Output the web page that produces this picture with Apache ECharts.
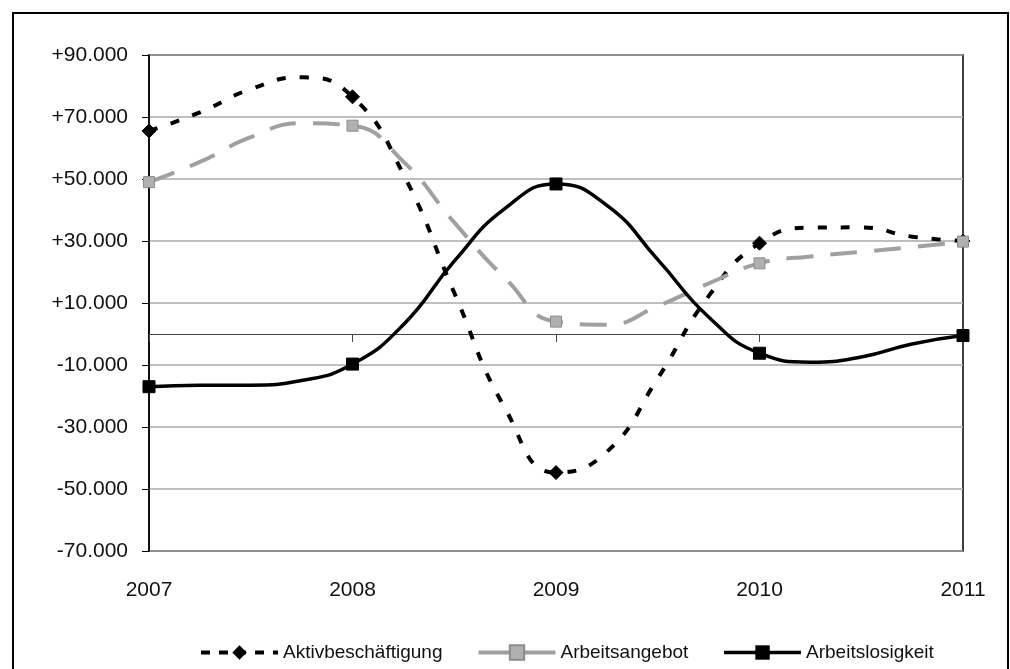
<!DOCTYPE html>
<html>
<head>
<meta charset="utf-8">
<script src="https://cdn.jsdelivr.net/npm/echarts@6/dist/echarts.min.js"></script>
<style>
  html, body { margin: 0; padding: 0; background: #fff; }
  #chart { width: 1010px; height: 669px; }
</style>
</head>
<body>
<div id="chart"></div>
<script>
// Quarterly time points (fractional years); markers are drawn on full years only
const periods = [2007, 2007.25, 2007.5, 2007.75,
                 2008, 2008.25, 2008.5, 2008.75,
                 2009, 2009.25, 2009.5, 2009.75,
                 2010, 2010.25, 2010.5, 2010.75,
                 2011];
const yearTicks = [2007, 2008, 2009, 2010, 2011];

// Change against previous year (persons)
const aktivbeschaeftigung = [65500, 71500, 79000, 82800,
                             76500, 51500, 13300, -24000,
                             -44700, -38000, -14300, 12200,
                             29300, 34300, 34400, 31400,
                             30000];
const arbeitsangebot = [49000, 55500, 63500, 68000,
                        67200, 55600, 36000, 18000,
                        4000, 3000, 9000, 16300,
                        22800, 25000, 26500, 28000,
                        29800];
const arbeitslosigkeit = [-17000, -16500, -16500, -15000,
                          -9700, 3000, 23500, 40500,
                          48400, 41500, 24000, 5500,
                          -6200, -9100, -7400, -3200,
                          -500];

const seriesNames = ['Aktivbeschäftigung', 'Arbeitsangebot', 'Arbeitslosigkeit'];

function toPoints(values) {
  return periods.map((t, i) => {
    const item = { value: [t, values[i]] };
    if (!yearTicks.includes(t)) item.symbol = 'none';
    return item;
  });
}

function yLabel(v) {
  const sign = v > 0 ? '+' : (v < 0 ? '-' : '');
  return sign + Math.abs(v) / 1000 + '.000';
}

const FONT = '"Liberation Sans", Arial, sans-serif';

const styles = {
  aktiv: {
    line: { color: '#000', width: 4, type: [9, 14] },
    item: { color: '#000', borderColor: '#000' }
  },
  angebot: {
    line: { color: '#a0a0a0', width: 4, type: [27, 17] },
    item: { color: '#b0b0b0', borderColor: '#8c8c8c', borderWidth: 1 }
  },
  losigkeit: {
    line: { color: '#000', width: 3.5, type: 'solid' },
    item: { color: '#000', borderColor: '#000' }
  }
};

const chart = echarts.init(document.getElementById('chart'), null, { renderer: 'canvas' });

chart.setOption({
  backgroundColor: '#ffffff',
  animation: false,
  graphic: [{
    type: 'rect',
    shape: { x: 13, y: 13, width: 995, height: 720 },
    style: { fill: 'none', stroke: '#000', lineWidth: 2 },
    silent: true
  }],
  grid: {
    left: 149, top: 55, right: 47, bottom: 118,
    show: true, borderColor: '#000', borderWidth: 1.5,
    containLabel: false
  },
  legend: {
    left: 194, top: 638,
    itemWidth: 77, itemHeight: 18, itemGap: 34,
    textStyle: { fontFamily: FONT, fontSize: 19, color: '#111' },
    data: [
      { name: seriesNames[0], lineStyle: { width: 4, type: [9, 9] } },
      { name: seriesNames[1], lineStyle: { width: 4, type: 'solid' } },
      { name: seriesNames[2], lineStyle: { width: 3.5, type: 'solid' } }
    ]
  },
  xAxis: [{
    type: 'value', min: 2007, max: 2011, interval: 1,
    position: 'bottom',
    axisLine: { show: false, onZero: false },
    axisTick: { show: false },
    splitLine: { show: false },
    axisLabel: {
      margin: 29, fontFamily: FONT, fontSize: 21, color: '#111',
      formatter: (v) => String(v)
    }
  }, {
    // zero line with year ticks
    type: 'value', min: 2007, max: 2011, interval: 1,
    position: 'bottom',
    axisLine: { show: true, onZero: true, lineStyle: { color: '#444', width: 1.2 } },
    axisTick: { show: true, inside: false, length: 8, lineStyle: { color: '#444', width: 1 } },
    axisLabel: { show: false },
    splitLine: { show: false }
  }],
  yAxis: {
    type: 'value', min: -70000, max: 90000, interval: 20000,
    axisLine: { show: true, lineStyle: { color: '#000', width: 1.5 } },
    axisTick: { show: true, length: 7, lineStyle: { color: '#000', width: 1 } },
    splitLine: { show: true, lineStyle: { color: '#aaaaaa', width: 1.5 } },
    axisLabel: {
      margin: 21, fontFamily: FONT, fontSize: 21, color: '#111',
      formatter: yLabel
    }
  },
  series: [{
    name: seriesNames[0],
    type: 'line', xAxisIndex: 0,
    smooth: 0.5, showAllSymbol: true,
    data: toPoints(aktivbeschaeftigung),
    symbol: 'diamond', symbolSize: 14,
    lineStyle: styles.aktiv.line,
    itemStyle: styles.aktiv.item,
    z: 3
  }, {
    name: seriesNames[1],
    type: 'line', xAxisIndex: 0,
    smooth: 0.5, showAllSymbol: true,
    data: toPoints(arbeitsangebot),
    symbol: 'rect', symbolSize: 11,
    lineStyle: styles.angebot.line,
    itemStyle: styles.angebot.item,
    z: 4
  }, {
    name: seriesNames[2],
    type: 'line', xAxisIndex: 0,
    smooth: 0.5, showAllSymbol: true,
    data: toPoints(arbeitslosigkeit),
    symbol: 'rect', symbolSize: 12,
    lineStyle: styles.losigkeit.line,
    itemStyle: styles.losigkeit.item,
    z: 5
  }]
});
</script>
</body>
</html>
